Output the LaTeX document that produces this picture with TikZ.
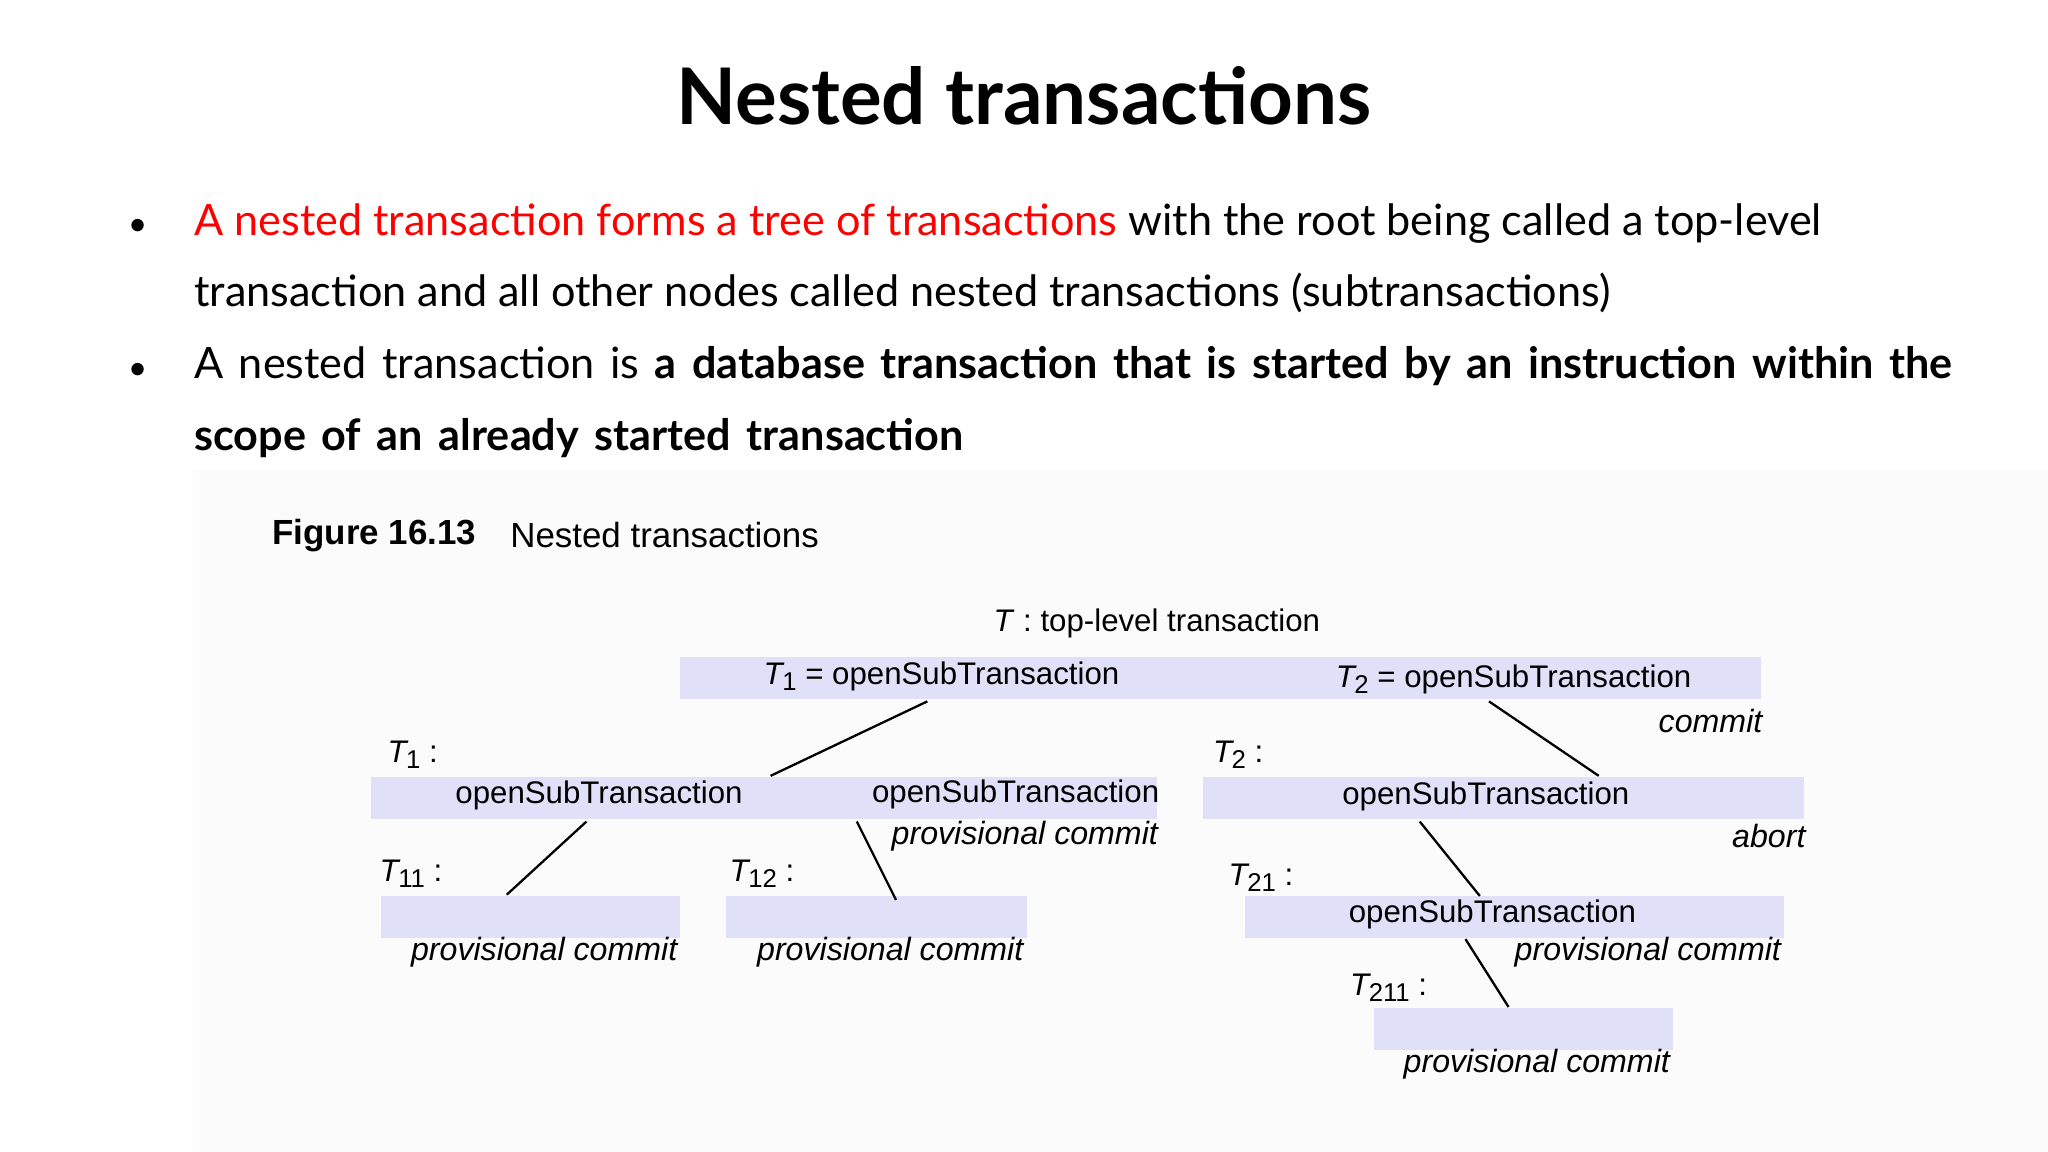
\documentclass[tikz,border=0pt]{standalone}
\usepackage{fontspec}
\setmainfont{Lato}
\newfontfamily\figfont{Liberation Sans}
\newcommand{\Tsb}[1]{\textit{T}\kern-0.5pt\raisebox{-0.35ex}{\fontsize{5.6}{6}\selectfont #1}}
\definecolor{boxc}{HTML}{E0E0F8}
\definecolor{bgc}{HTML}{FBFBFB}
\tikzset{
 bx/.style={fill=boxc,draw=none},
 lbl/.style={font=\figfont\fontsize{6.8}{8}\selectfont,inner sep=0pt,anchor=west},
 ilbl/.style={font=\figfont\itshape\fontsize{7.0}{8}\selectfont,inner sep=0pt,anchor=west},
 ln/.style={line width=0.5pt},
 body/.style={font=\fontsize{9.4}{11}\selectfont,inner sep=0pt,anchor=base west}
}
\begin{document}
\begin{tikzpicture}[x=0.01cm,y=-0.01cm]
\useasboundingbox (0,0) rectangle (1568,882);
\fill[white] (0,0) rectangle (1568,882);
\fill[bgc] (148,360) rectangle (1568,882);
\node[font=\bfseries\fontsize{17}{19}\selectfont] (title) at (784,73) {Nested transactions};
\node[body,font=\fontsize{6}{7}\selectfont] (b1) at (98,178) {$\bullet$};
\node[body] (l1) at (148,180) {\textcolor{red}{A nested transaction forms a tree of transactions} with the root being called a top-level};
\node[body] (l2) at (148,235) {transaction and all other nodes called nested transactions (subtransactions)};
\node[body,font=\fontsize{6}{7}\selectfont] (b2) at (98,288) {$\bullet$};
\node[body] (l3) at (148,290) {\spaceskip=0.36em A nested transaction is \textbf{a database transaction that is started by an instruction within the}};
\node[body] (l4) at (148,345) {\spaceskip=0.36em\textbf{scope of an already started transaction}};
\node[font=\figfont\bfseries\fontsize{7.6}{9}\selectfont,anchor=west,inner sep=0pt] (fig) at (208,410) {Figure 16.13};
\node[font=\figfont\fontsize{7.6}{9}\selectfont,anchor=west,inner sep=0pt] (figt) at (390,410) {Nested transactions};
% boxes
\path[bx] (521,503) rectangle (1348,535);
\path[bx] (284,595) rectangle (886,627);
\path[bx] (921,595) rectangle (1381,627);
\path[bx] (292,686) rectangle (521,718);
\path[bx] (556,686) rectangle (786,718);
\path[bx] (953,686) rectangle (1366,718);
\path[bx] (1052,772) rectangle (1281,804);
% labels
\node[lbl] (tt) at (760,477) {\textit{T} : top-level transaction};
\node[lbl] (t1o) at (584,518) {\Tsb{1} = openSubTransaction};
\node[lbl] (t2o) at (1022,520) {\Tsb{2} = openSubTransaction};
\node[ilbl,anchor=east] (cm) at (1350,552) {commit};
\node[lbl] (t1l) at (296,578) {\Tsb{1} :};
\node[lbl] (t2l) at (928,578) {\Tsb{2} :};
\node[lbl] (a1) at (348,609) {openSubTransaction};
\node[lbl] (a2) at (667,608) {openSubTransaction};
\node[ilbl] (pc1) at (682,640) {provisional commit};
\node[lbl] (a3) at (1027,610) {openSubTransaction};
\node[ilbl,anchor=east] (ab) at (1383,640) {abort};
\node[lbl] (t11) at (290,669) {\Tsb{11} :};
\node[lbl] (t12) at (558,669) {\Tsb{12} :};
\node[lbl] (t21) at (940,672) {\Tsb{21} :};
\node[lbl] (a4) at (1032,700) {openSubTransaction};
\node[ilbl] (pc2) at (314,729) {provisional commit};
\node[ilbl] (pc3) at (579,729) {provisional commit};
\node[ilbl] (pc4) at (1159,729) {provisional commit};
\node[lbl] (t211) at (1033,756) {\Tsb{211} :};
\node[ilbl] (pc5) at (1074,815) {provisional commit};
% connectors
\coordinate (c1) at (710,537); \coordinate (d1) at (590,594);
\coordinate (c2) at (1140,537); \coordinate (d2) at (1224,594);
\coordinate (c3) at (449,629); \coordinate (d3) at (388,685);
\coordinate (c4) at (656,629); \coordinate (d4) at (686,689);
\coordinate (c5) at (1087,629); \coordinate (d5) at (1133,686);
\coordinate (c6) at (1122,719); \coordinate (d6) at (1155,771);
\draw[ln] (c1)--(d1); \draw[ln] (c2)--(d2); \draw[ln] (c3)--(d3);
\draw[ln] (c4)--(d4); \draw[ln] (c5)--(d5); \draw[ln] (c6)--(d6);
\end{tikzpicture}
\end{document}
